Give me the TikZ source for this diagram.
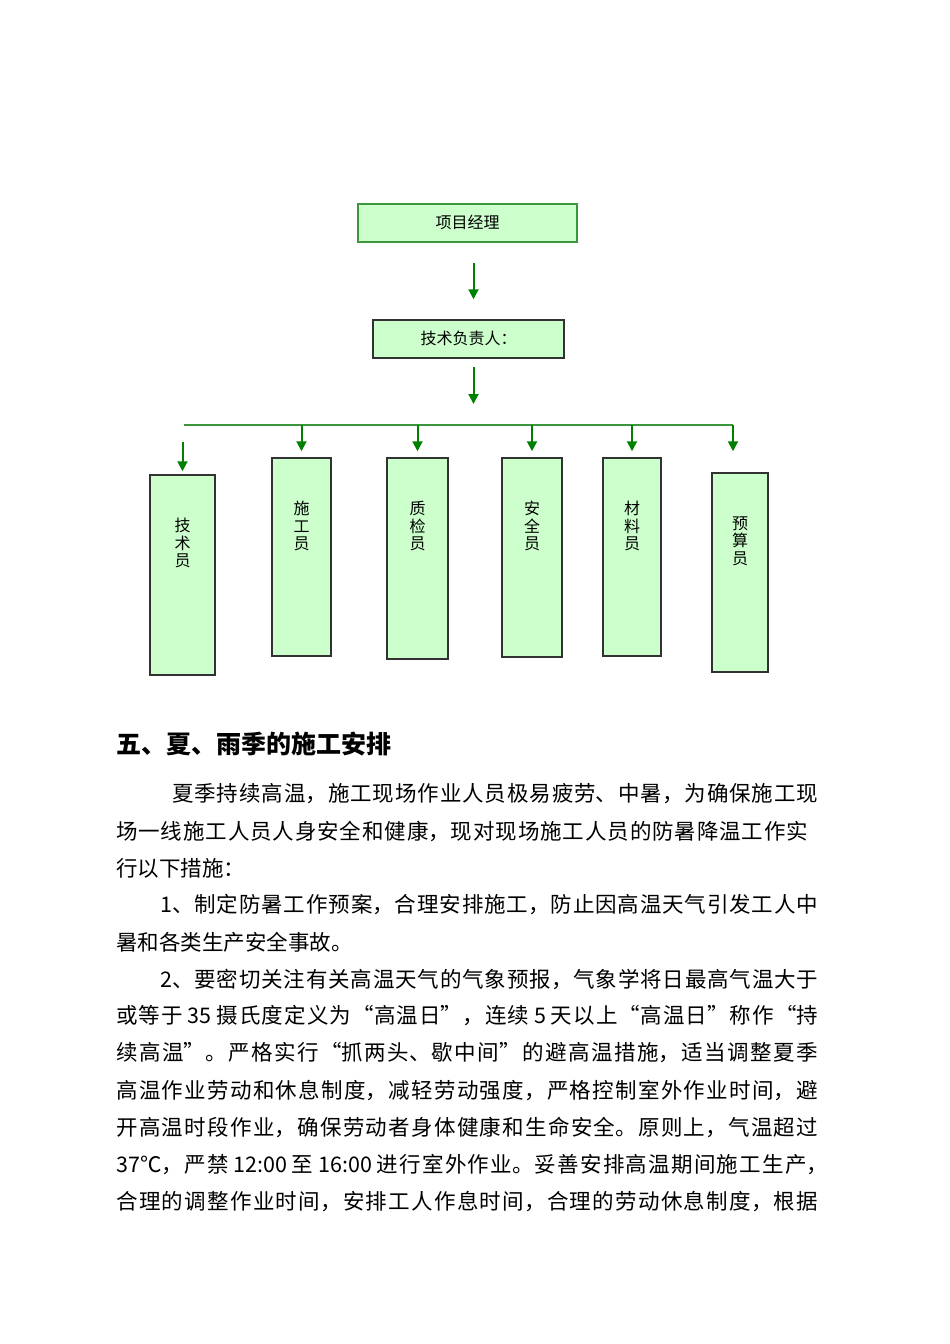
\documentclass[tikz,border=0pt]{standalone}
\usepackage{fontspec}
\setmainfont{Noto Sans CJK SC}
\usetikzlibrary{arrows.meta, positioning, calc}
\definecolor{boxgreen}{RGB}{204,255,204}
\definecolor{arrowgreen}{RGB}{0,128,0}
\definecolor{busgreen}{RGB}{60,150,60}
\definecolor{darkgray}{RGB}{50,50,50}
\XeTeXlinebreaklocale "zh"
\XeTeXlinebreakskip=0pt plus 1fil

\begin{document}
\begin{tikzpicture}[x=1pt, y=1pt,
    top/.style={rectangle, draw=busgreen, fill=boxgreen, line width=1.2pt, minimum width=219pt, minimum height=38pt, font=\fontsize{16}{18}\selectfont},
    lead/.style={rectangle, draw=darkgray, fill=boxgreen, line width=1.5pt, minimum width=191pt, minimum height=38pt, font=\fontsize{16}{18}\selectfont},
    staff/.style={rectangle, draw=darkgray, fill=boxgreen, line width=1.5pt, inner sep=0pt},
    lbl/.style={font=\fontsize{16}{17.5}\selectfont, align=center, inner sep=0pt},
    arr/.style={-{Triangle[length=10pt, width=10pt]}, line width=2pt, arrowgreen},
    bus/.style={line width=1.5pt, busgreen},
    head/.style={anchor=west, inner sep=0pt, font=\fontsize{25}{28}\selectfont\bfseries},
    para/.style={anchor=west, inner sep=0pt, font=\fontsize{21.5}{26}\selectfont},
    jline/.style={para, text width=#1, align=justify}
]
\useasboundingbox (0,0) rectangle (950,-1344);

% organisation chart
\node[top] (pm) at (467.5,-223) {\raisebox{3pt}{项目经理}};
\node[lead] (tl) at (468.5,-339) {\raisebox{3pt}{技术负责人：}};

\node[staff, minimum width=65pt, minimum height=200pt] (jsy) at (182.5,-575) {};
\node[staff, minimum width=59pt, minimum height=198pt] (sgy) at (301.5,-557) {};
\node[staff, minimum width=61pt, minimum height=201pt] (zjy) at (417.5,-558.5) {};
\node[staff, minimum width=60pt, minimum height=199pt] (aqy) at (532,-557.5) {};
\node[staff, minimum width=58pt, minimum height=198pt] (cly) at (632,-557) {};
\node[staff, minimum width=56pt, minimum height=199pt] (ysy) at (740,-572.5) {};

\node[lbl] (jsy-t) at ([yshift=-69pt]jsy.north) {技\\术\\员};
\node[lbl] (sgy-t) at ([yshift=-69pt]sgy.north) {施\\工\\员};
\node[lbl] (zjy-t) at ([yshift=-69pt]zjy.north) {质\\检\\员};
\node[lbl] (aqy-t) at ([yshift=-69pt]aqy.north) {安\\全\\员};
\node[lbl] (cly-t) at ([yshift=-69pt]cly.north) {材\\料\\员};
\node[lbl] (ysy-t) at ([yshift=-69pt]ysy.north) {预\\算\\员};

\coordinate (busL) at (184,-425);
\coordinate (busM) at (473.5,-425);
\coordinate (busR) at (733,-425);

\draw[arr, shorten <=20pt, shorten >=20pt] ([xshift=6pt]pm.south) -- ([xshift=5pt]tl.north);
\draw[arr, shorten <=8pt, shorten >=21pt] ([xshift=5pt]tl.south) -- (busM);
\draw[bus] (busL) -- (busR);
\draw[arr, shorten >=3pt] ([yshift=32pt]jsy.north) -- (jsy.north);
\draw[arr, shorten >=6pt] (busL -| sgy.north) -- (sgy.north);
\draw[arr, shorten >=6pt] (busL -| zjy.north) -- (zjy.north);
\draw[arr, shorten >=6pt] (busL -| aqy.north) -- (aqy.north);
\draw[arr, shorten >=6pt] (busL -| cly.north) -- (cly.north);
\draw[arr, shorten >=21pt] (busR) -- (busR |- ysy.north);

% section text
\node[head] (h5) at (116,-744) {五、夏、雨季的施工安排};
\node[jline=646pt] (p1) at (172,-794) {\parfillskip=0pt 夏季持续高温，施工现场作业人员极易疲劳、中暑，为确保施工现\par};
\node[jline=692pt] (p2) at (116,-831) {\parfillskip=0pt 场一线施工人员人身安全和健康，现对现场施工人员的防暑降温工作实\par};
\node[para] (p3) at (116,-868) {行以下措施：};
\node[jline=658pt] (p4) at (160,-905) {\parfillskip=0pt 1、制定防暑工作预案，合理安排施工，防止因高温天气引发工人中\par};
\node[para] (p5) at (116,-942) {暑和各类生产安全事故。};
\node[jline=658pt] (p6) at (160,-979) {\parfillskip=0pt 2、要密切关注有关高温天气的气象预报，气象学将日最高气温大于\par};
\node[jline=702pt] (p7) at (116,-1016) {\parfillskip=0pt 或等于 35 摄氏度定义为“高温日”，连续 5 天以上“高温日”称作“持\par};
\node[jline=702pt] (p8) at (116,-1053) {\parfillskip=0pt 续高温”。严格实行“抓两头、歇中间”的避高温措施，适当调整夏季\par};
\node[jline=702pt] (p9) at (116,-1090) {\parfillskip=0pt 高温作业劳动和休息制度，减轻劳动强度，严格控制室外作业时间，避\par};
\node[jline=702pt] (p10) at (116,-1127) {\parfillskip=0pt 开高温时段作业，确保劳动者身体健康和生命安全。原则上，气温超过\par};
\node[jline=712pt] (p11) at (116,-1164) {\parfillskip=0pt 37℃，严禁 12:00 至 16:00 进行室外作业。妥善安排高温期间施工生产，\par};
\node[jline=702pt] (p12) at (116,-1201) {\parfillskip=0pt 合理的调整作业时间，安排工人作息时间，合理的劳动休息制度，根据\par};
\end{tikzpicture}
\end{document}
